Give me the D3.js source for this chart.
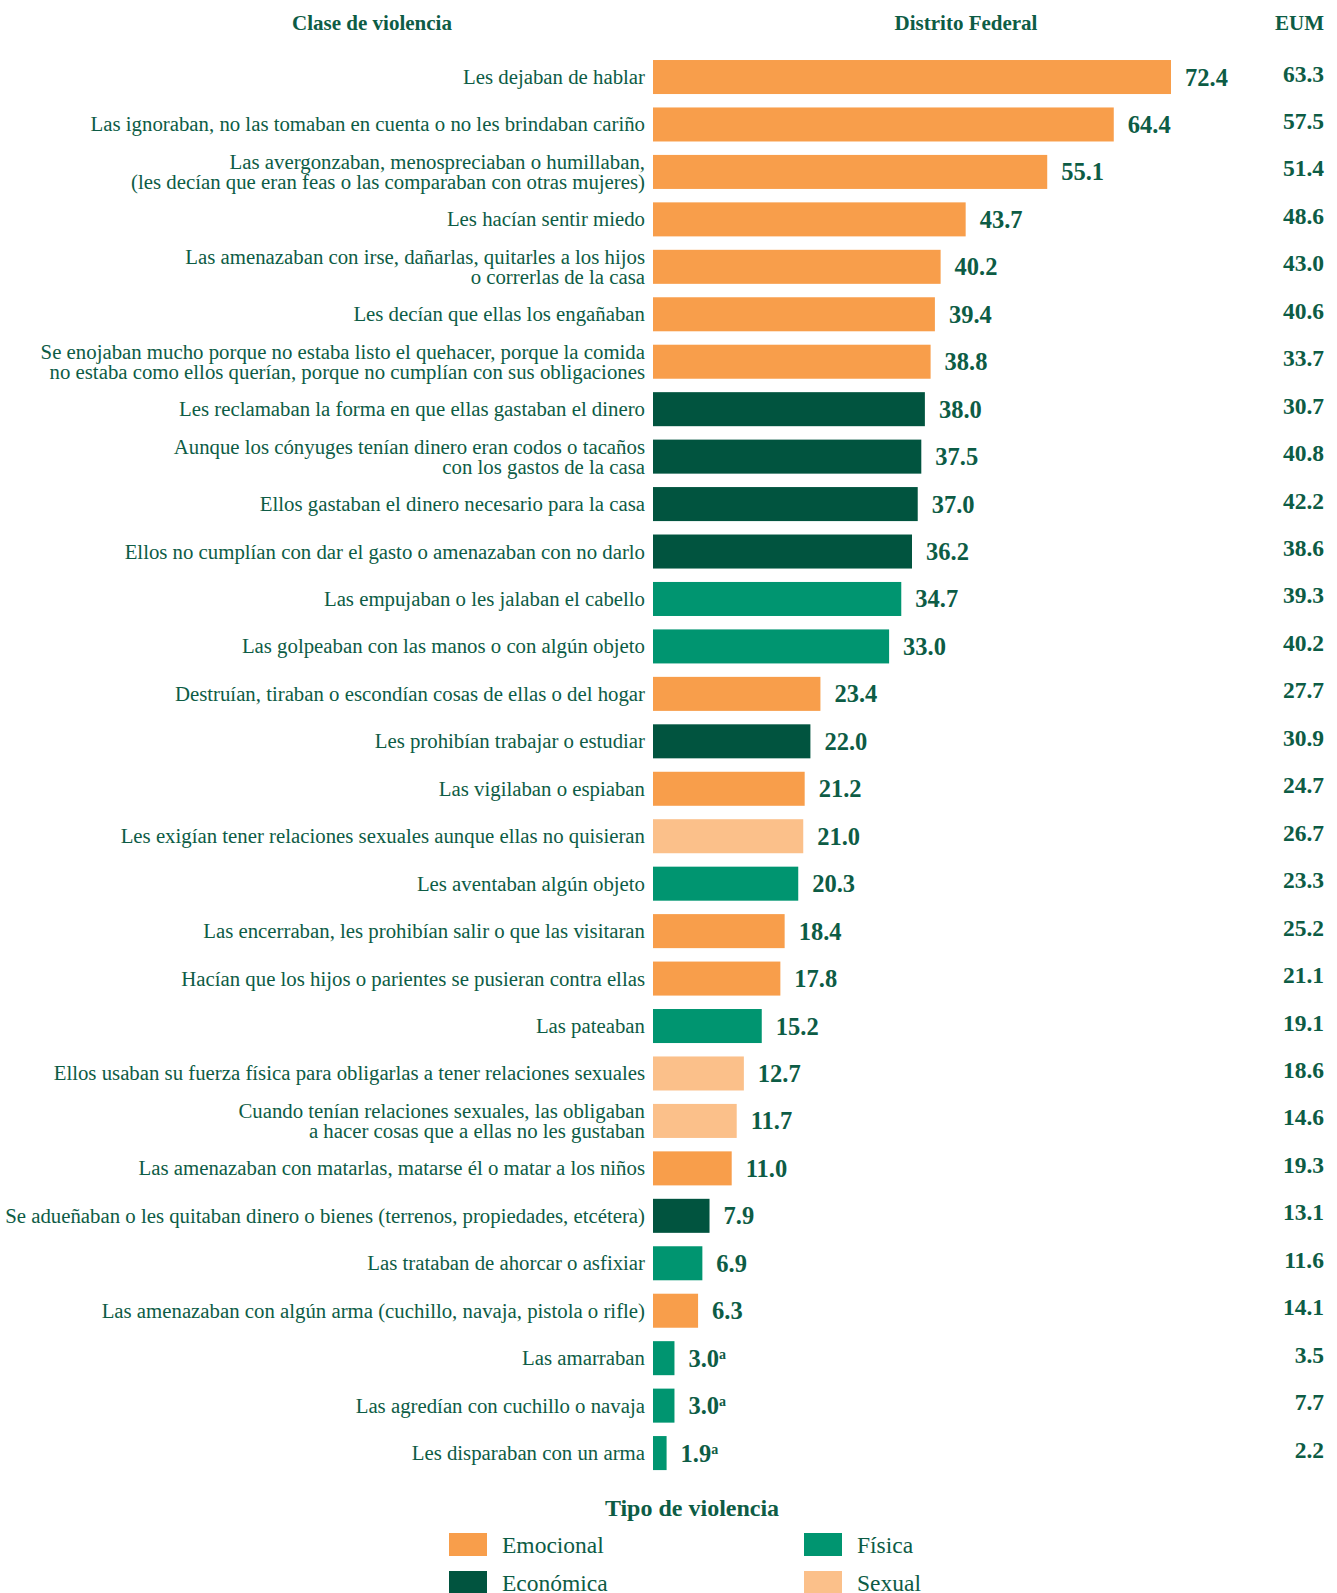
<!DOCTYPE html>
<html>
<head>
<meta charset="utf-8">
<script src="https://cdn.jsdelivr.net/npm/d3@7"></script>
<style>
	body { margin: 0; background: #fff; }
	text { font-family: "Liberation Serif", "Times New Roman", serif; fill: #0d5c45; }
</style>
</head>
<body>
<svg id="svg1"></svg>
<script>
var svg1 = d3.select("#svg1").attr("width", 1337).attr("height", 1593);

var categories = [
	["Les dejaban de hablar"],
	["Las ignoraban, no las tomaban en cuenta o no les brindaban cariño"],
	["Las avergonzaban, menospreciaban o humillaban,", "(les decían que eran feas o las comparaban con otras mujeres)"],
	["Les hacían sentir miedo"],
	["Las amenazaban con irse, dañarlas, quitarles a los hijos", "o correrlas de la casa"],
	["Les decían que ellas los engañaban"],
	["Se enojaban mucho porque no estaba listo el quehacer, porque la comida", "no estaba como ellos querían, porque no cumplían con sus obligaciones"],
	["Les reclamaban la forma en que ellas gastaban el dinero"],
	["Aunque los cónyuges tenían dinero eran codos o tacaños", "con los gastos de la casa"],
	["Ellos gastaban el dinero necesario para la casa"],
	["Ellos no cumplían con dar el gasto o amenazaban con no darlo"],
	["Las empujaban o les jalaban el cabello"],
	["Las golpeaban con las manos o con algún objeto"],
	["Destruían, tiraban o escondían cosas de ellas o del hogar"],
	["Les prohibían trabajar o estudiar"],
	["Las vigilaban o espiaban"],
	["Les exigían tener relaciones sexuales aunque ellas no quisieran"],
	["Les aventaban algún objeto"],
	["Las encerraban, les prohibían salir o que las visitaran"],
	["Hacían que los hijos o parientes se pusieran contra ellas"],
	["Las pateaban"],
	["Ellos usaban su fuerza física para obligarlas a tener relaciones sexuales"],
	["Cuando tenían relaciones sexuales, las obligaban", "a hacer cosas que a ellas no les gustaban"],
	["Las amenazaban con matarlas, matarse él o matar a los niños"],
	["Se adueñaban o les quitaban dinero o bienes (terrenos, propiedades, etcétera)"],
	["Las trataban de ahorcar o asfixiar"],
	["Las amenazaban con algún arma (cuchillo, navaja, pistola o rifle)"],
	["Las amarraban"],
	["Las agredían con cuchillo o navaja"],
	["Les disparaban con un arma"]
];

var dfValues = [72.4, 64.4, 55.1, 43.7, 40.2, 39.4, 38.8, 38.0, 37.5, 37.0, 36.2, 34.7, 33.0, 23.4, 22.0, 21.2, 21.0, 20.3, 18.4, 17.8, 15.2, 12.7, 11.7, 11.0, 7.9, 6.9, 6.3, 3.0, 3.0, 1.9];
var eumValues = [63.3, 57.5, 51.4, 48.6, 43.0, 40.6, 33.7, 30.7, 40.8, 42.2, 38.6, 39.3, 40.2, 27.7, 30.9, 24.7, 26.7, 23.3, 25.2, 21.1, 19.1, 18.6, 14.6, 19.3, 13.1, 11.6, 14.1, 3.5, 7.7, 2.2];
var types = ["Emocional", "Emocional", "Emocional", "Emocional", "Emocional", "Emocional", "Emocional",
	"Económica", "Económica", "Económica", "Económica", "Física", "Física", "Emocional", "Económica",
	"Emocional", "Sexual", "Física", "Emocional", "Emocional", "Física", "Sexual", "Sexual", "Emocional",
	"Económica", "Física", "Emocional", "Física", "Física", "Física"];
var footnotes = ["", "", "", "", "", "", "", "", "", "", "", "", "", "", "", "", "", "", "", "", "", "", "", "", "", "", "", "a", "a", "a"];

var typeNames = ["Emocional", "Física", "Económica", "Sexual"];
var typeColors = ["#f89e4b", "#009570", "#01543f", "#fbc08a"];

var colorScale = d3.scaleOrdinal()
	.domain(typeNames)
	.range(typeColors);

var rows = d3.range(categories.length);

var xScale = d3.scaleLinear()
	.domain([0, 72.4])
	.range([653, 1171]);

var yScale = d3.scaleBand()
	.domain(rows)
	.range([53.3, 53.3 + 30 * 47.45])
	.paddingInner(0.283)
	.paddingOuter(0.1415);

// headers
svg1.append("text")
	.attr("x", 372)
	.attr("y", 30)
	.attr("text-anchor", "middle")
	.attr("font-weight", "bold")
	.attr("font-size", 21)
	.text("Clase de violencia");

svg1.append("text")
	.attr("x", 966)
	.attr("y", 30)
	.attr("text-anchor", "middle")
	.attr("font-weight", "bold")
	.attr("font-size", 21)
	.text("Distrito Federal");

svg1.append("text")
	.attr("x", 1324)
	.attr("y", 30)
	.attr("text-anchor", "end")
	.attr("font-weight", "bold")
	.attr("font-size", 21)
	.text("EUM");

var bars = svg1.append("g").attr("id", "bars");

bars.selectAll("rect")
	.data(rows)
	.enter()
	.append("rect")
		.attr("x", xScale(0))
		.attr("y", function(i){ return yScale(i); })
		.attr("width", function(i){ return xScale(dfValues[i]) - xScale(0); })
		.attr("height", yScale.bandwidth())
		.attr("fill", function(i){ return colorScale(types[i]); });

// category labels
var labels = svg1.append("g").attr("id", "labels");

labels.selectAll("text")
	.data(rows)
	.enter()
	.append("text")
		.attr("text-anchor", "end")
		.attr("font-size", 20.8)
		.each(function(i){
			var lines = categories[i];
			var mid = yScale(i) + yScale.bandwidth()/2;
			var lh = 19.8;
			var first = mid - (lines.length - 1) * lh / 2 + 7;
			d3.select(this).selectAll("tspan")
				.data(lines)
				.enter()
				.append("tspan")
					.attr("x", 645)
					.attr("y", function(d, k){ return first + k*lh; })
					.text(function(d){ return d; });
		});

// value labels
var valueLabels = svg1.append("g").attr("id", "values");

var vText = valueLabels.selectAll("text")
	.data(rows)
	.enter()
	.append("text")
		.attr("x", function(i){ return xScale(dfValues[i]) + 14; })
		.attr("y", function(i){ return yScale(i) + yScale.bandwidth()/2 + 8.5; })
		.attr("font-weight", "bold")
		.attr("font-size", 24.5);

vText.append("tspan")
	.text(function(i){ return d3.format(".1f")(dfValues[i]); });

vText.append("tspan")
	.attr("font-size", 14)
	.attr("dy", -8)
	.text(function(i){ return footnotes[i]; });

svg1.append("g").attr("id", "eum")
	.selectAll("text")
	.data(rows)
	.enter()
	.append("text")
		.attr("x", 1324)
		.attr("y", function(i){ return yScale(i) + yScale.bandwidth()/2 + 4.5; })
		.attr("text-anchor", "end")
		.attr("font-weight", "bold")
		.attr("font-size", 23.5)
		.text(function(i){ return d3.format(".1f")(eumValues[i]); });

// legend
var legends = svg1.append("g").attr("class", "legends");

legends.append("text")
	.attr("x", 692)
	.attr("y", 1516)
	.attr("text-anchor", "middle")
	.attr("font-weight", "bold")
	.attr("font-size", 24)
	.text("Tipo de violencia");

var legend = legends.selectAll(".legend")
	.data(typeNames)
	.enter()
	.append("g")
		.attr("class", "legend")
		.attr("transform", function(d, i){
			return "translate(" + (449 + (i % 2) * 355) + "," + (1533 + Math.floor(i/2) * 38) + ")";
		});

legend.append("rect")
	.attr("width", 38)
	.attr("height", 23)
	.attr("fill", function(d){ return colorScale(d); });

legend.append("text")
	.attr("x", 53)
	.attr("y", 20)
	.attr("font-size", 23.5)
	.text(function(d){ return d; });
</script>
</body>
</html>
